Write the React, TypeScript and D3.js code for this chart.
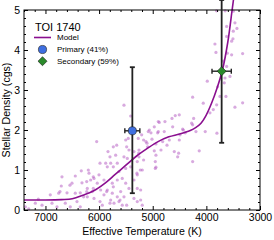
import React, { useEffect, useRef } from "react";
import * as d3 from "d3";

// model curve (Teff, density)
const modelTeff = [7400, 7000, 6700, 6500, 6300, 6100, 5900, 5700, 5500, 5300, 5100, 4900, 4700, 4500, 4300, 4200, 4100, 4000, 3900, 3800, 3700, 3600, 3520, 3495];
const modelRho = [0.25, 0.25, 0.26, 0.28, 0.37, 0.48, 0.66, 0.89, 1.12, 1.35, 1.54, 1.71, 1.83, 1.9, 1.99, 2.06, 2.17, 2.38, 2.68, 3.05, 3.5, 4.2, 5.0, 5.25];

// background sample of stars
const starTeff = [
  7375, 7312, 7189, 7064, 6910, 6878, 6785, 6753, 6705, 6692, 6630, 6598, 6537, 6505, 6444, 6444, 6412, 6351, 6351, 6332, 6319, 6288,
  7133, 6729, 6543, 6201, 6108, 6045, 5983, 5797, 5735, 5672, 5486, 5983, 5797, 5610, 5486, 6231, 6108, 5859, 5735,
  5735, 5504, 5834, 5691, 5536, 5474, 5877, 5784, 5661, 5847, 5629, 5504, 6188, 6095, 6002, 6157, 6231, 6034, 5909, 5754,
  5661, 5568, 5504, 6220, 6127, 5971, 5909, 5847, 5754, 5661, 5598, 5536, 5443, 5288, 5225, 6095, 5940, 5784, 5722, 5629,
  5568, 5350, 5288, 5225, 5195, 5411, 5288, 5256, 5350, 5443, 5256, 5195, 5288, 5350, 6220,
  4256, 4058, 4505, 4580, 4641, 4878, 4971, 5064, 5033, 4908, 4785, 4628, 4442, 4393, 4256, 4194, 4021, 5126, 5014, 4940,
  4815, 4691, 4505, 5095, 4971, 4846, 4940, 4598, 4517, 4535, 4133, 4940, 4256,
  3803, 4952, 5170, 5107, 4734, 5262, 5170, 4952, 5232, 5294,
  5536, 5411, 4772, 4896, 5083, 4896, 4274, 4430, 4492, 5456, 5270, 5206,
  3498, 3467, 3622, 3498, 3622, 3529, 3840, 3821, 3610, 3529, 3324, 3685, 3622, 3653, 3560, 3983, 3747, 3635, 3808, 3467,
  3324, 3871, 3933, 3790, 3666, 3504, 3430, 4237, 3810, 3650,
];
const starRho = [
  0.08, 0.03, 0.17, 0.12, 0.38, 0.17, 0.08, 0.42, 0.6, 0.83, 0.17, 0.43, 0.08, 0.67, 0.85, 0.42, 0.21, 0.43, 0.08, 0.98, 0.68, 0.33,
  0.27, 0.46, 0.62, 1.0, 0.83, 1.71, 1.17, 1.33, 1.08, 1.62, 1.58, 0.21, 0.17, 0.25, 0.12, 0.46, 0.54, 0.46, 0.58,
  1.58, 1.75, 1.46, 1.37, 1.33, 1.29, 1.17, 1.17, 1.17, 1.08, 0.96, 1.04, 0.92, 0.79, 0.88, 0.75, 0.71, 0.67, 0.75, 0.67,
  0.75, 0.79, 0.67, 0.54, 0.46, 0.5, 0.38, 0.5, 0.42, 0.33, 0.46, 0.33, 0.54, 0.54, 0.5, 0.29, 0.12, 0.25, 0.17, 0.21,
  0.12, 0.29, 0.21, 0.25, 0.12, 1.08, 1.21, 1.33, 1.46, 1.5, 1.5, 1.0, 0.88, 0.75, 0.33,
  2.82, 2.67, 2.38, 2.36, 2.29, 2.19, 2.08, 2.0, 1.93, 1.93, 1.96, 2.08, 2.02, 1.93, 2.13, 1.96, 1.96, 1.71, 1.77, 1.65,
  1.71, 1.75, 1.75, 1.58, 1.48, 1.5, 1.37, 1.46, 1.42, 1.33, 1.48, 1.07, 1.21,
  1.92, 1.04, 1.75, 1.67, 1.62, 1.42, 1.25, 1.21, 1.0, 0.92,
  2.62, 2.35, 2.21, 2.21, 1.96, 1.96, 2.17, 2.0, 1.88, 1.79, 1.79, 1.88,
  4.97, 4.68, 4.59, 4.47, 4.34, 4.22, 4.15, 3.94, 3.92, 3.88, 3.91, 3.72, 3.59, 3.3, 3.34, 3.22, 2.84, 2.84, 2.63, 2.57,
  2.68, 2.51, 2.43, 3.08, 3.18, 4.28, 4.54, 2.29, 4.98, 4.98,
];

// TOI 1740 components
const compNames = ["Primary (41%)", "Secondary (59%)"];
const compTeff = [5380, 3715];
const compTeffErr = [140, 180];
const compRho = [1.98, 3.47];
const compRhoLo = [0.42, 1.68];
const compRhoHi = [3.57, 5.25];
const compColors = ["#3f6fe0", "#2a8a2a"];

const xMajor = [7000, 6000, 5000, 4000, 3000];
const yMajor = [0, 1, 2, 3, 4, 5];

const W = 274;
const H = 240;
const m = { left: 24, right: 14, top: 10, bottom: 30 };
const FONT = "'Liberation Sans', Arial, Helvetica, sans-serif";

export default function App() {
  const svgRef = useRef<SVGSVGElement>(null);

  useEffect(() => {
    const svg = d3.select(svgRef.current);
    svg.selectAll("*").remove();

    const x = d3.scaleLinear().domain([7400, 3000]).range([m.left, W - m.right]);
    const y = d3.scaleLinear().domain([0, 5]).range([H - m.bottom, m.top]);
    const x0 = m.left, x1 = W - m.right, y0 = H - m.bottom, y1 = m.top;

    const xMinor = d3.range(7400, 2999, -200).filter((v) => v % 1000 !== 0);
    const yMinor = d3.range(0.2, 5, 0.2).filter((v) => Math.abs(v - Math.round(v)) > 0.01);

    // scatter of stars
    svg.append("g")
      .selectAll("circle")
      .data(starTeff.map((t, i) => [t, starRho[i]]))
      .join("circle")
      .attr("cx", (d) => x(d[0]))
      .attr("cy", (d) => y(d[1]))
      .attr("r", 1.6)
      .attr("fill", "#b865c4")
      .attr("opacity", 0.55);

    // model
    const line = d3.line<number>()
      .x((d, i) => x(modelTeff[i]))
      .y((d) => y(d))
      .curve(d3.curveCatmullRom.alpha(0.5));
    svg.append("path")
      .attr("d", line(modelRho))
      .attr("fill", "none")
      .attr("stroke", "#8a0f8f")
      .attr("stroke-width", 1.6);

    // axes, ticks inward on all sides
    const addAxis = (gen: any, tx: number, ty: number) =>
      svg.append("g").attr("transform", `translate(${tx},${ty})`).call(gen)
        .call((g: any) => g.select(".domain").remove())
        .attr("font-family", FONT)
        .attr("font-size", 10.5);

    addAxis(d3.axisBottom(x).tickValues(xMajor).tickSize(-4).tickSizeOuter(0).tickPadding(4).tickFormat(d3.format("d")), 0, y0);
    addAxis(d3.axisBottom(x).tickValues(xMinor).tickSize(-2).tickSizeOuter(0).tickFormat(() => ""), 0, y0);
    addAxis(d3.axisTop(x).tickValues(xMajor).tickSize(-4).tickSizeOuter(0).tickFormat(() => ""), 0, y1);
    addAxis(d3.axisTop(x).tickValues(xMinor).tickSize(-2).tickSizeOuter(0).tickFormat(() => ""), 0, y1);
    addAxis(d3.axisLeft(y).tickValues(yMajor).tickSize(-4).tickSizeOuter(0).tickPadding(4).tickFormat(d3.format("d")), x0, 0);
    addAxis(d3.axisLeft(y).tickValues(yMinor).tickSize(-2).tickSizeOuter(0).tickFormat(() => ""), x0, 0);
    addAxis(d3.axisRight(y).tickValues(yMajor).tickSize(-4).tickSizeOuter(0).tickFormat(() => ""), x1, 0);
    addAxis(d3.axisRight(y).tickValues(yMinor).tickSize(-2).tickSizeOuter(0).tickFormat(() => ""), x1, 0);
    svg.selectAll(".tick text").attr("fill", "#000");

    svg.append("rect")
      .attr("x", x0).attr("y", y1).attr("width", x1 - x0).attr("height", y0 - y1)
      .attr("fill", "none").attr("stroke", "#000").attr("stroke-width", 1);

    // error bars
    const eb = svg.append("g").attr("stroke", "#222").attr("stroke-width", 1.8);
    compTeff.forEach((t, i) => {
      const cx = x(t), cy = y(compRho[i]);
      eb.append("line").attr("x1", cx).attr("x2", cx).attr("y1", y(compRhoLo[i])).attr("y2", y(compRhoHi[i]));
      eb.append("line").attr("x1", cx - 2.5).attr("x2", cx + 2.5).attr("y1", y(compRhoLo[i])).attr("y2", y(compRhoLo[i]));
      eb.append("line").attr("x1", cx - 2.5).attr("x2", cx + 2.5).attr("y1", y(compRhoHi[i])).attr("y2", y(compRhoHi[i]));
      const xl = x(t + compTeffErr[i]), xr = x(t - compTeffErr[i]);
      eb.append("line").attr("x1", xl).attr("x2", xr).attr("y1", cy).attr("y2", cy).attr("stroke-width", 1.4);
      eb.append("line").attr("x1", xl).attr("x2", xl).attr("y1", cy - 2.5).attr("y2", cy + 2.5).attr("stroke-width", 1.4);
      eb.append("line").attr("x1", xr).attr("x2", xr).attr("y1", cy - 2.5).attr("y2", cy + 2.5).attr("stroke-width", 1.4);
    });

    const sym = [d3.symbol(d3.symbolCircle, 52), d3.symbol(d3.symbolDiamond2, 52)];
    compTeff.forEach((t, i) => {
      svg.append("path")
        .attr("d", sym[i]() as string)
        .attr("transform", `translate(${x(t)},${y(compRho[i])})`)
        .attr("fill", compColors[i])
        .attr("stroke", "#1a1a1a")
        .attr("stroke-width", 0.6);
    });

    // legend
    const lg = svg.append("g").attr("font-family", FONT);
    lg.append("text").attr("x", 35).attr("y", 31).attr("font-size", 11).text("TOI 1740");
    lg.append("line").attr("x1", 34).attr("x2", 51).attr("y1", 37.5).attr("y2", 37.5)
      .attr("stroke", "#8a0f8f").attr("stroke-width", 1.6);
    lg.append("text").attr("x", 57).attr("y", 40.3).attr("font-size", 8).text("Model");
    compNames.forEach((name, i) => {
      const ly = 49.5 + i * 11.7;
      lg.append("path")
        .attr("d", sym[i]() as string)
        .attr("transform", `translate(42.5,${ly})`)
        .attr("fill", compColors[i])
        .attr("stroke", "#1a1a1a")
        .attr("stroke-width", 0.6);
      lg.append("text").attr("x", 57).attr("y", ly + 2.9).attr("font-size", 8).text(name);
    });

    // axis titles
    svg.append("text")
      .attr("x", (x0 + x1) / 2).attr("y", 235)
      .attr("text-anchor", "middle").attr("font-family", FONT).attr("font-size", 10.6)
      .text("Effective Temperature (K)");
    svg.append("text")
      .attr("transform", `translate(9.5,${(y0 + y1) / 2}) rotate(-90)`)
      .attr("text-anchor", "middle").attr("font-family", FONT).attr("font-size", 10.6)
      .text("Stellar Density (cgs)");
  }, []);

  return (
    <svg ref={svgRef} width={W} height={H}
      style={{ position: "absolute", left: 0, top: 0, background: "#fff" }} />
  );
}
